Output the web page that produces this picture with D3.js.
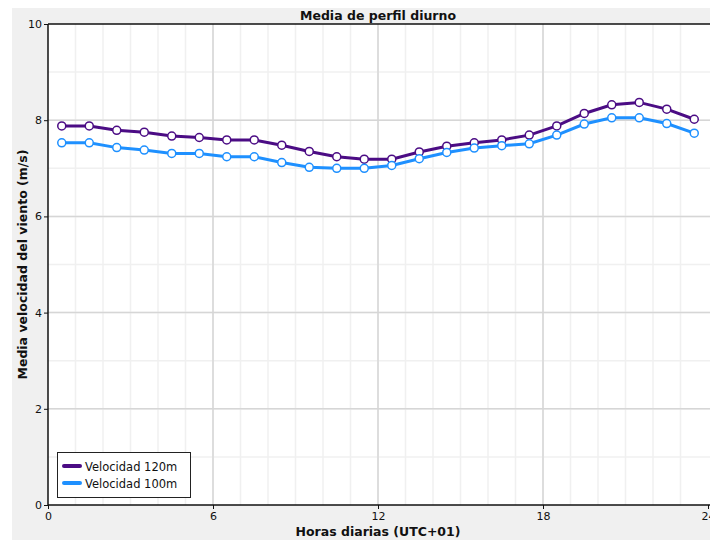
<!DOCTYPE html>
<html>
<head>
<meta charset="utf-8">
<script src="https://cdn.jsdelivr.net/npm/d3@7"></script>
<style>
  body { margin: 0; background: #fff; }
  text { font-family: "DejaVu Sans", Verdana, sans-serif; fill: #111; }
</style>
</head>
<body>
<svg id="chart" width="710" height="540"></svg>
<script>
// hour of day (bin centres)
var hours = d3.range(24).map(function (h) { return h + 0.5; });

var vel120 = [7.88, 7.88, 7.79, 7.75, 7.67, 7.64, 7.59, 7.59, 7.48, 7.35, 7.24, 7.19,
              7.19, 7.34, 7.46, 7.53, 7.59, 7.69, 7.88, 8.14, 8.32, 8.37, 8.23, 8.02];
var vel100 = [7.53, 7.53, 7.43, 7.38, 7.31, 7.31, 7.24, 7.24, 7.12, 7.02, 7.00, 7.00,
              7.06, 7.20, 7.33, 7.42, 7.47, 7.51, 7.69, 7.92, 8.05, 8.05, 7.93, 7.73];

var seriesNames = ["Velocidad 120m", "Velocidad 100m"];
var seriesColors = ["#4b0c84", "#1e90ff"];

var xTicks = [0, 6, 12, 18, 24];
var yTicks = [0, 2, 4, 6, 8, 10];

var svg = d3.select("#chart");

// plot box (named to avoid window.top)
var pLeft = 48, pRight = 708, pTop = 24, pBottom = 505;

// grey frame background
svg.append("rect")
    .attr("x", 12).attr("y", 8)
    .attr("width", 710 - 12).attr("height", 540 - 8)
    .attr("fill", "#f0f0f0");

svg.append("rect")
    .attr("x", pLeft).attr("y", pTop)
    .attr("width", 710 - pLeft).attr("height", pBottom - pTop)
    .attr("fill", "#fff");

var x = d3.scaleLinear().domain([0, 24]).range([pLeft, pRight]);
var y = d3.scaleLinear().domain([0, 10]).range([pBottom, pTop]);

// minor grid
svg.append("g").selectAll("line").data(d3.range(1, 24)).enter().append("line")
    .attr("x1", function (d) { return x(d); }).attr("x2", function (d) { return x(d); })
    .attr("y1", pTop).attr("y2", pBottom)
    .attr("stroke", "#f0f0f0").attr("stroke-width", 1.5);
svg.append("g").selectAll("line").data(d3.range(1, 10)).enter().append("line")
    .attr("y1", function (d) { return y(d); }).attr("y2", function (d) { return y(d); })
    .attr("x1", pLeft).attr("x2", 710)
    .attr("stroke", "#f0f0f0").attr("stroke-width", 1.5);

// major grid
svg.append("g").selectAll("line").data([6, 12, 18]).enter().append("line")
    .attr("x1", function (d) { return x(d); }).attr("x2", function (d) { return x(d); })
    .attr("y1", pTop).attr("y2", pBottom)
    .attr("stroke", "#d6d6d6").attr("stroke-width", 1.5);
svg.append("g").selectAll("line").data([2, 4, 6, 8]).enter().append("line")
    .attr("y1", function (d) { return y(d); }).attr("y2", function (d) { return y(d); })
    .attr("x1", pLeft).attr("x2", 710)
    .attr("stroke", "#d6d6d6").attr("stroke-width", 1.5);

// axes
var xAxis = d3.axisBottom(x).tickValues(xTicks).tickSize(4).tickPadding(3);
var yAxis = d3.axisLeft(y).tickValues(yTicks).tickSize(4).tickPadding(2);

var gx = svg.append("g").attr("transform", "translate(0," + pBottom + ")").call(xAxis);
var gy = svg.append("g").attr("transform", "translate(" + pLeft + ",0)").call(yAxis);
[gx, gy].forEach(function (g) {
    g.select(".domain").remove();
    g.selectAll("line").attr("stroke", "#111");
    g.selectAll("text").attr("font-size", 11).attr("font-family", "DejaVu Sans").attr("fill", "#222");
});

// frame lines
svg.append("line").attr("x1", pLeft).attr("x2", 710).attr("y1", pTop).attr("y2", pTop)
    .attr("stroke", "#111").attr("stroke-width", 1.5);
svg.append("line").attr("x1", pLeft).attr("x2", 710).attr("y1", pBottom).attr("y2", pBottom)
    .attr("stroke", "#111").attr("stroke-width", 1.5);
svg.append("line").attr("x1", pLeft).attr("x2", pLeft).attr("y1", pTop).attr("y2", pBottom)
    .attr("stroke", "#111").attr("stroke-width", 1.5);

// series
var line = d3.line()
    .x(function (d, i) { return x(hours[i]); })
    .y(function (d) { return y(d); });

[vel120, vel100].forEach(function (vals, k) {
    svg.append("path").datum(vals)
        .attr("d", line)
        .attr("fill", "none")
        .attr("stroke", seriesColors[k])
        .attr("stroke-width", 3);
    svg.append("g").selectAll("circle").data(vals).enter().append("circle")
        .attr("cx", function (d, i) { return x(hours[i]); })
        .attr("cy", function (d) { return y(d); })
        .attr("r", 4)
        .attr("fill", "#fff")
        .attr("stroke", seriesColors[k])
        .attr("stroke-width", 1.5);
});

// title + axis titles
svg.append("text")
    .attr("x", (pLeft + pRight) / 2).attr("y", 20)
    .attr("text-anchor", "middle")
    .attr("font-size", 12.5).attr("font-weight", "bold")
    .text("Media de perfil diurno");

svg.append("text")
    .attr("x", (pLeft + pRight) / 2).attr("y", 536)
    .attr("text-anchor", "middle")
    .attr("font-size", 12.5).attr("font-weight", "bold")
    .text("Horas diarias (UTC+01)");

svg.append("text")
    .attr("transform", "translate(27," + (pTop + pBottom) / 2 + ") rotate(-90)")
    .attr("text-anchor", "middle")
    .attr("font-size", 12.5).attr("font-weight", "bold")
    .text("Media velocidad del viento (m/s)");

// legend
var legend = svg.append("g").attr("transform", "translate(57,452)");
legend.append("rect")
    .attr("x", 0.5).attr("y", 0.5).attr("width", 133).attr("height", 45)
    .attr("fill", "#fff").attr("stroke", "#222").attr("stroke-width", 1);
seriesNames.forEach(function (name, k) {
    var ly = 14 + k * 17;
    legend.append("line")
        .attr("x1", 7).attr("x2", 23).attr("y1", ly).attr("y2", ly)
        .attr("stroke", seriesColors[k]).attr("stroke-width", 4)
        .attr("stroke-linecap", "round");
    legend.append("text")
        .attr("x", 28).attr("y", ly + 4.5)
        .attr("font-size", 11.5)
        .text(name);
});
</script>
</body>
</html>
